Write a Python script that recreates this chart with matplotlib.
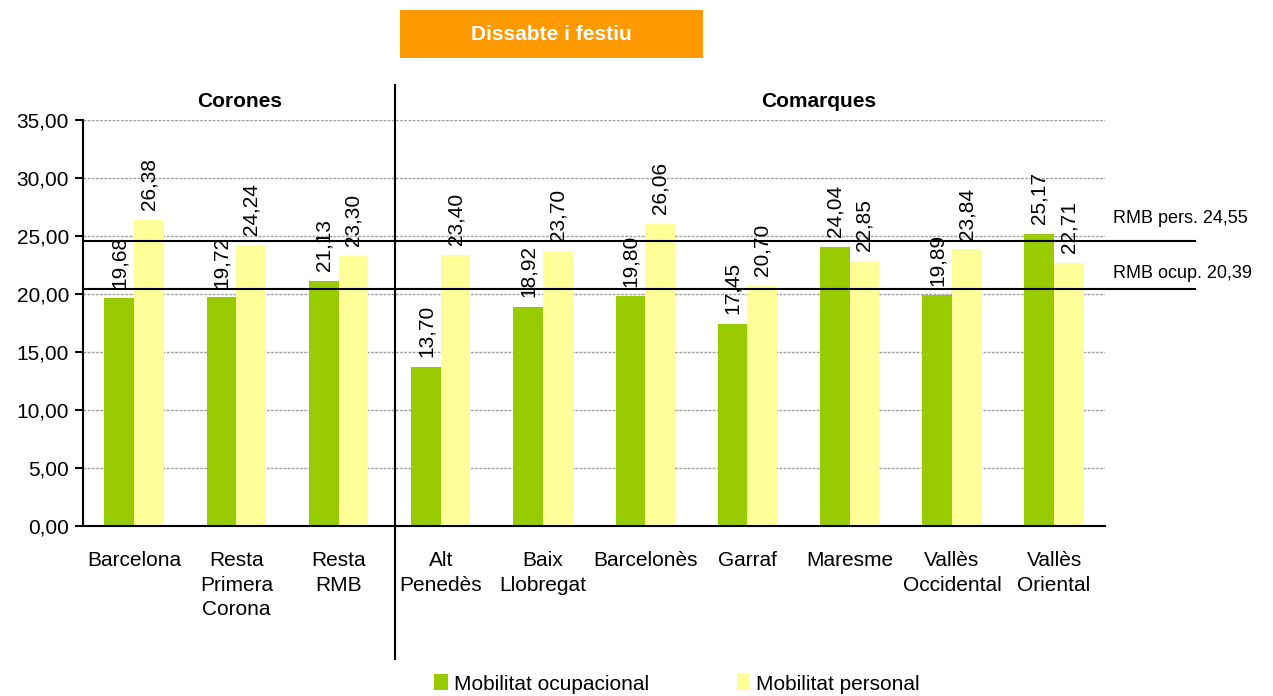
import matplotlib
matplotlib.use("Agg")
import matplotlib.pyplot as plt
from matplotlib.patches import Rectangle
import numpy as np

plt.rcParams['font.family'] = ['Liberation Sans', 'DejaVu Sans']

# data
categories = ["Barcelona", "Resta\nPrimera\nCorona", "Resta\nRMB",
              "Alt\nPenedès", "Baix\nLlobregat", "Barcelonès", "Garraf",
              "Maresme", "Vallès\nOccidental", "Vallès\nOriental"]
ocupacional = [19.68, 19.72, 21.13, 13.70, 18.92, 19.80, 17.45, 24.04, 19.89, 25.17]
personal = [26.38, 24.24, 23.30, 23.40, 23.70, 26.06, 20.70, 22.85, 23.84, 22.71]
rmb_pers = 24.55
rmb_ocup = 20.39

green = "#99CC00"
yellow = "#FFFF99"

def fmt(v):
	return f"{v:.2f}".replace(".", ",")

fig = plt.figure(figsize=(12.73, 6.96), dpi=100)
ax = fig.add_axes([0.0652, 0.2443, 0.8030, 0.5833])

x = np.arange(len(categories))
w = 0.29
b1 = ax.bar(x - w/2, ocupacional, w, color=green, label="Mobilitat ocupacional", zorder=2)
b2 = ax.bar(x + w/2, personal, w, color=yellow, label="Mobilitat personal", zorder=2)

# value labels above bars, rotated
for bars, vals in ((b1, ocupacional), (b2, personal)):
	for r, v in zip(bars, vals):
		ax.annotate(fmt(v), (r.get_x() + r.get_width()/2, v), xytext=(0, 7),
			textcoords="offset points", rotation=90, ha="center", va="bottom",
			fontsize=15, zorder=4)

ax.set_xlim(-0.5, len(categories) - 0.5)
ax.set_ylim(0, 35)
ax.set_yticks(np.arange(0, 35.01, 5))
ax.set_yticklabels([fmt(t) for t in np.arange(0, 35.01, 5)], fontsize=15)
ax.set_xticks(x)
ax.set_xticklabels(categories, fontsize=15, linespacing=1.37, va="top")
ax.tick_params(axis="x", length=0, pad=18)
ax.tick_params(axis="y", length=6, width=1.5, direction="out", pad=4)

for s in ("top", "right"):
	ax.spines[s].set_visible(False)
ax.spines["left"].set_linewidth(1.5)
ax.spines["bottom"].set_linewidth(1.5)

ax.yaxis.grid(True, color="#a0a0a0", linestyle=(0, (2, 1)), linewidth=1, zorder=0)
ax.set_axisbelow(True)

# RMB reference lines extend past the plot area
for val, lab, dy in ((rmb_pers, "RMB pers. 24,55", 2.0), (rmb_ocup, "RMB ocup. 20,39", 1.4)):
	ax.plot([-0.5, 10.38], [val, val], color="black", lw=1.5, clip_on=False, zorder=3)
	ax.text(9.58, val + dy, lab, fontsize=13, ha="left", va="center")

# separator between Corones and Comarques
ax.plot([2.55, 2.55], [-11.5, 38.0], color="black", lw=1.5, clip_on=False, zorder=3)
ax.text(1.03, 36.6, "Corones", fontsize=15, fontweight="bold", ha="center", va="center")
ax.text(6.7, 36.6, "Comarques", fontsize=15, fontweight="bold", ha="center", va="center")

# title box
fig.patches.append(Rectangle((400/1273, 1 - 58/696), 303/1273, 48/696,
	transform=fig.transFigure, facecolor="#FF9900", edgecolor="none"))
fig.text(551.5/1273, 1 - 34/696, "Dissabte i festiu", color="white", fontsize=15,
	fontweight="bold", ha="center", va="center")

fig.legend(handles=[b1, b2], loc="center", bbox_to_anchor=(677/1273, 1 - 684/696),
	ncol=2, frameon=False, fontsize=15, handlelength=0.65, handleheight=0.8,
	handletextpad=0.3, columnspacing=4.2)

fig.savefig("out.png", dpi=100)
